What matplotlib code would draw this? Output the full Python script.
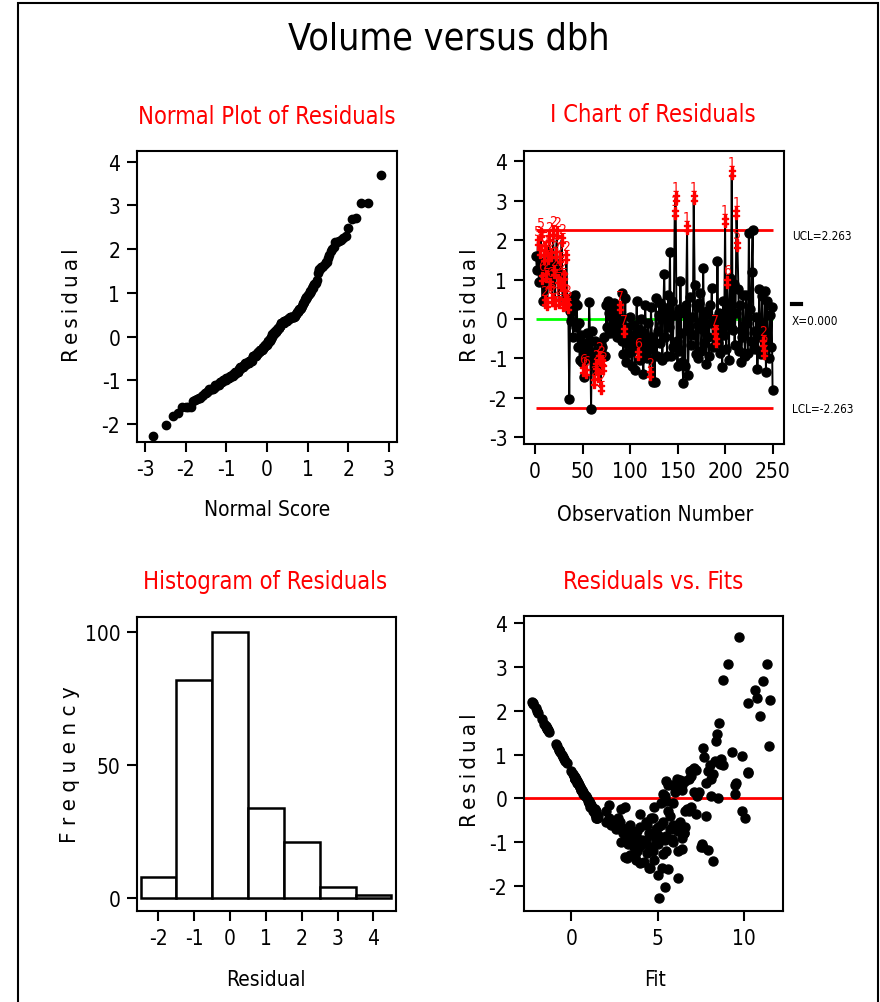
import matplotlib
matplotlib.use("Agg")
import matplotlib.pyplot as plt
from matplotlib.patches import Rectangle
from statistics import NormalDist
import numpy as np

plt.rcParams['font.family'] = ['DejaVu Sans']
plt.rcParams['font.stretch'] = 'condensed'
plt.rcParams['axes.unicode_minus'] = False

# residuals in observation order
residuals = [
    1.60, 1.23, 1.95, 0.95, 1.70, 2.15, 1.05, 0.45, 1.55, 0.42,
    1.80, 1.10, 0.38, 1.55, 2.05, 0.90, 1.62, 0.48, 2.20, 1.20,
    0.40, 1.65, 2.18, 1.00, 0.44, 1.52, 0.85, 2.00, 0.35, 1.10,
    0.80, 0.45, 1.58, 0.46, 0.30, -2.03, 0.20, -0.05, 0.55, -0.45,
    0.45, 0.62, -0.20, 0.35, -0.70, -0.10, -1.05, -0.40, -1.10, -0.60,
    -1.30, -1.48, -0.80, -1.35, -0.35, -1.00, 0.42, -0.55, -2.27, -0.30,
    -0.90, -1.60, -0.55, -1.20, -0.80, -1.45, -1.00, -0.60, -1.75, -1.10,
    -0.70, -1.25, -0.45, -0.95, 0.35, -0.20, 0.45, 0.15, -0.35, 0.25,
    0.05, -0.30, 0.40, -0.10, 0.20, -0.45, 0.10, -0.25, 0.30, -0.05,
    -0.55, 0.65, -0.90, -0.30, 0.52, -1.10, -0.60, -0.20, -0.85, 0.05,
    -0.40, -1.20, -0.70, -0.15, -1.30, -0.55, 0.45, -0.90, -0.25, -1.05,
    -0.52, 0.00, -0.80, -1.40, -0.35, 0.35, -0.65, -1.00, -0.10, -0.75,
    -1.40, 0.30, -0.45, -1.60, -0.60, -1.60, 0.52, -0.95, -0.30, 0.10,
    0.40, -0.60, 0.05, -1.05, 0.30, 1.15, -0.45, 0.20, -0.95, 0.62,
    -0.20, 1.71, -0.93, 0.45, -0.70, 0.10, 2.70, 3.06, -0.55, -1.20,
    0.25, -0.80, 0.97, -0.35, -1.10, -1.62, 0.15, -1.18, 0.35, 2.30,
    -1.43, -0.30, 0.55, -0.65, 0.05, -0.40, 3.06, 0.85, -0.90, 0.30,
    -0.15, -1.00, 0.40, 0.65, -0.80, -0.25, 1.30, -0.60, 0.10, -1.15,
    0.20, -0.45, -0.95, 0.35, -0.10, 0.79, -0.70, 0.00, -0.30, -0.55,
    -0.25, 1.46, -0.60, 0.15, -0.85, -0.05, -1.21, 0.45, -0.40, 2.48,
    -0.75, 0.95, 0.30, -1.05, 1.05, -0.20, 3.69, -0.29, 0.90, -0.65,
    0.15, 2.68, 1.87, 0.77, -0.80, 0.35, -1.10, -0.45, 0.60, -0.35,
    -0.95, 0.62, -0.10, -0.85, 2.17, 0.25, -0.55, 1.20, 2.25, -0.70,
    -0.30, -0.75, 0.05, -1.26, -0.45, 0.75, -0.20, -0.90, 0.58, -0.60,
    -0.85, 0.70, -1.34, 0.45, -0.65, -1.00, 0.10, -0.70, 0.30, -1.81,
]

# fitted values for the same observations
fits = [
    -1.41, -0.89, -1.91, -0.49, -1.56, -2.20, -0.63, 0.23, -1.34, 0.27,
    -1.70, -0.70, 0.33, -1.34, -2.06, -0.41, -1.44, 0.19, -2.27, -0.84,
    0.30, -1.49, -2.24, -0.56, 0.24, -1.30, -0.34, -1.99, 0.37, -0.70,
    -0.27, 0.23, -1.39, 0.21, 0.44, 5.40, 0.58, 0.95, 0.09, 1.50,
    0.23, 0.00, 1.20, 0.37, 2.60, 1.05, 3.30, 1.45, 3.60, 2.30,
    3.40, 4.00, 3.00, 3.20, 1.35, 2.90, 6.30, 2.00, 5.10, 1.30,
    3.50, 4.50, 2.40, 3.80, 3.10, 4.20, 3.70, 2.70, 5.00, 3.90,
    3.20, 4.40, 1.45, 3.40, 0.35, 1.15, 0.20, 0.65, 1.40, 0.50,
    0.80, 1.25, 0.30, 1.00, 0.60, 2.20, 0.75, 1.35, 0.45, 1.00,
    2.80, 7.00, 3.60, 1.40, 0.13, 4.60, 2.50, 1.10, 3.30, 0.85,
    1.55, 4.70, 3.10, 1.15, 3.70, 2.10, 0.25, 3.80, 1.30, 4.20,
    2.60, 0.90, 3.50, 4.80, 1.45, 0.40, 2.90, 4.00, 1.10, 3.40,
    3.75, 5.60, 1.50, 5.25, 4.40, 4.55, 6.90, 4.10, 2.00, 0.70,
    6.60, 5.20, 5.40, 5.00, 6.00, 7.60, 4.70, 6.40, 4.30, 6.85,
    3.10, 8.55, 5.80, 6.10, 5.70, 7.30, 8.80, 9.05, 5.30, 5.50,
    0.52, 6.50, 9.85, 4.00, 7.50, 5.60, 7.10, 7.90, 9.55, 10.75,
    8.20, 6.60, 8.20, 5.00, 8.10, 7.80, 11.35, 8.30, 5.20, 6.40,
    2.20, 4.90, 5.50, 7.20, 6.50, 6.70, 8.40, 5.90, 5.30, 6.40,
    0.57, 4.60, 5.10, 6.20, 5.20, 8.60, 6.00, 8.50, 5.60, 4.30,
    2.90, 8.45, 6.10, 7.40, 5.10, 5.45, 6.20, 8.10, 5.70, 10.62,
    6.20, 7.70, 9.50, 7.55, 9.30, 6.90, 9.70, 9.85, 8.65, 6.60,
    6.00, 11.10, 10.90, 8.00, 4.50, 7.80, 7.60, 10.05, 10.20, 7.20,
    5.40, 7.90, 5.90, 4.80, 10.25, 0.51, 6.30, 11.45, 11.50, 4.90,
    6.80, 3.80, 7.30, 5.30, 2.70, 8.75, 4.80, 6.40, 10.20, 3.40,
    5.50, 7.10, 3.10, 6.80, 4.00, 5.90, 9.45, 2.80, 5.80, 6.20,
]

# control limits and failed tests on the I chart
ucl = 2.263
center = 0.0
lcl = -2.263
flag_obs = [3, 5, 6, 7, 9,
            10, 11, 12, 13, 14, 15, 16, 17, 18, 19, 20, 21, 22,
            23, 24, 25, 26, 27, 28, 29, 30, 31, 32, 33, 34, 35,
            51, 54, 62, 64, 66, 67, 69, 70, 72, 89, 94, 108, 121,
            147, 148, 160, 167, 189, 190, 200, 202, 207, 212, 213, 240, 241]
flag_tests = ['5', '6', '5', '6', '6',
              '2', '5', '2', '2', '5', '2', '6', '2', '2', '2', '2', '2', '5',
              '2', '2', '2', '2', '2', '2', '2', '2', '2', '2', '2', '2', '2',
              '6', '6', '2', '2', '2', '2', '2', '2', '2', '7', '7', '6', '2',
              '1', '1', '1', '1', '7', '7', '1', '6', '1', '1', '5', '2', '2']

hist_bins = [-2.5, -1.5, -0.5, 0.5, 1.5, 2.5, 3.5, 4.5]

RED = '#ff0000'
GREEN = '#00ff00'

fig = plt.figure(figsize=(8.8, 10.03), dpi=100)
fig.patches.append(Rectangle((18 / 880, -0.02), 860 / 880, 1.0 - 4 / 1003 + 0.02,
                             transform=fig.transFigure, fill=False,
                             edgecolor='black', linewidth=1.5))


def style(ax):
    for s in ax.spines.values():
        s.set_linewidth(1.5)
    ax.tick_params(direction='out', length=7, width=1.5, labelsize=15, pad=5)


# normal plot
ax1 = fig.add_axes([137 / 880, 1 - 443 / 1003, 260 / 880, 291 / 1003])
n = len(residuals)
nd = NormalDist()
scores = [nd.inv_cdf((i + 1 - 0.375) / (n + 0.25)) for i in range(n)]
ax1.plot(scores, sorted(residuals), 'o', color='black', ms=6)
ax1.set_xlim(-3.2, 3.2)
ax1.set_ylim(-2.41, 4.24)
ax1.set_xticks(range(-3, 4))
ax1.set_yticks(range(-2, 5))
style(ax1)

# I chart
ax2 = fig.add_axes([524 / 880, 1 - 445 / 1003, 260 / 880, 293 / 1003])
obs = np.arange(1, n + 1)
res = np.array(residuals)
ax2.hlines([ucl, lcl], 1, n, colors=RED, lw=2, zorder=1)
ax2.hlines(center, 1, n, colors=GREEN, lw=2, zorder=1)
ax2.plot(obs, res, color='black', lw=1.4, zorder=2)
flagged = np.isin(obs, flag_obs)
ax2.plot(obs[~flagged], res[~flagged], 'o', color='black', ms=6.5, zorder=3)
fx = np.array(flag_obs)
fy = res[fx - 1]
ax2.plot(fx, fy, ls='none', marker='$\\ddagger$', color=RED, ms=8, zorder=4)
for x, y, t in zip(fx, fy, flag_tests):
    ax2.annotate(t, (x, y), xytext=(0, 3), textcoords='offset points',
                 ha='center', va='bottom', color=RED, fontsize=10, zorder=5)
ax2.set_xlim(-11.6, 262)
ax2.set_ylim(-3.17, 4.26)
ax2.set_xticks(range(0, 251, 50))
ax2.set_yticks(range(-3, 5))
style(ax2)
tr = ax2.get_yaxis_transform()
ax2.text(1.03, ucl - 0.15, 'UCL=2.263', transform=tr, fontsize=8.5, va='center', ha='left')
ax2.text(1.03, center - 0.05, 'X=0.000', transform=tr, fontsize=8.5, va='center', ha='left')
ax2.plot([1.03, 1.065], [0.37, 0.37], transform=tr, color='black', lw=3, clip_on=False)
ax2.text(1.03, lcl, 'LCL=-2.263', transform=tr, fontsize=8.5, va='center', ha='left')

# histogram
ax3 = fig.add_axes([137 / 880, 1 - 912 / 1003, 259 / 880, 294 / 1003])
ax3.hist(residuals, bins=hist_bins, color='white', edgecolor='black', linewidth=1.8)
ax3.set_xlim(-2.6, 4.63)
ax3.set_ylim(-4.9, 105.6)
ax3.set_xticks(range(-2, 5))
ax3.set_yticks([0, 50, 100])
style(ax3)

# residuals vs fits
ax4 = fig.add_axes([524 / 880, 1 - 912 / 1003, 259 / 880, 295 / 1003])
ax4.axhline(0, color=RED, lw=2, zorder=1)
ax4.plot(fits, residuals, 'o', color='black', ms=6.5, zorder=2)
ax4.set_xlim(-2.74, 12.25)
ax4.set_ylim(-2.57, 4.16)
ax4.set_xticks([0, 5, 10])
ax4.set_yticks(range(-2, 5))
style(ax4)

# titles and labels
fig.text(449 / 880, 1 - 40 / 1003, 'Volume versus dbh', fontsize=27, ha='center', va='center')
for x, y, t in [(267, 117, 'Normal Plot of Residuals'), (653, 115, 'I Chart of Residuals'),
                (265, 582, 'Histogram of Residuals'), (653, 582, 'Residuals vs. Fits')]:
    fig.text(x / 880, 1 - y / 1003, t, fontsize=17, color=RED, ha='center', va='center')
for x, y, t in [(267, 510, 'Normal Score'), (655, 515, 'Observation Number'),
                (266, 980, 'Residual'), (655, 980, 'Fit')]:
    fig.text(x / 880, 1 - y / 1003, t, fontsize=15, ha='center', va='center')
thin = '\u2009'
for x, y, t in [(72, 305, thin.join('Residual')), (470, 305, thin.join('Residual')),
                (70, 765, ' '.join('Frequency')), (470, 770, thin.join('Residual'))]:
    fig.text(x / 880, 1 - y / 1003, t, fontsize=16, rotation=90, ha='center', va='center')

fig.savefig('out.png', dpi=100)
